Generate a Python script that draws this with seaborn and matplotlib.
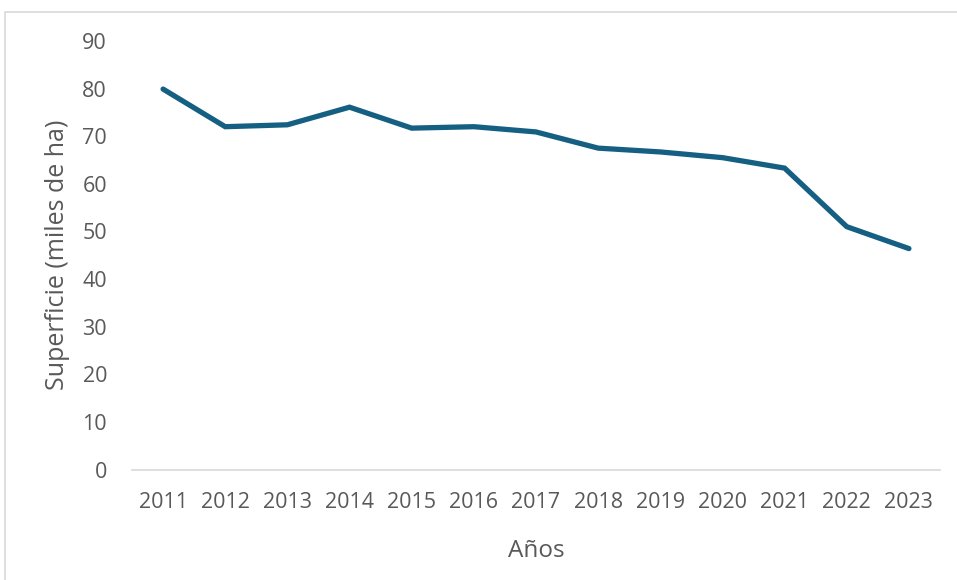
import matplotlib
matplotlib.use("Agg")
import matplotlib.pyplot as plt
import seaborn as sns
import pandas as pd
from matplotlib.patches import Rectangle

years = ["2011", "2012", "2013", "2014", "2015", "2016", "2017",
         "2018", "2019", "2020", "2021", "2022", "2023"]
superficie = [79.9, 72.0, 72.4, 76.1, 71.7, 72.0, 70.9,
              67.5, 66.7, 65.5, 63.3, 51.0, 46.4]
yticks = [0, 10, 20, 30, 40, 50, 60, 70, 80, 90]

df = pd.DataFrame({"Años": years, "Superficie": superficie})

sns.set_theme(style="white")
plt.rcParams["font.family"] = ["Open Sans", "DejaVu Sans"]

fig = plt.figure(figsize=(9.57, 5.8), dpi=100)
ax = fig.add_axes([132/957, 1 - 469.5/580, (940 - 132)/957, (469.5 - 41)/580])

sns.lineplot(data=df, x="Años", y="Superficie", ax=ax, color="#156082",
             linewidth=3.8, solid_capstyle="round", solid_joinstyle="miter", sort=False)

ax.set_xlim(-0.5, len(years) - 0.5)
ax.set_ylim(0, 90)
ax.set_yticks(yticks)
ax.set_yticklabels([str(v) for v in yticks])

for s in ["top", "right", "left"]:
    ax.spines[s].set_visible(False)
ax.spines["bottom"].set_color("#d9d9d9")
ax.spines["bottom"].set_linewidth(1.2)

ax.tick_params(axis="both", length=0, labelsize=15.5, labelcolor="#595959")
ax.tick_params(axis="x", pad=16)
ax.tick_params(axis="y", pad=18)

ax.set_xlabel("Años", fontsize=17.5, color="#595959", labelpad=19)
ax.set_ylabel("Superficie (miles de ha)", fontsize=18, color="#595959", labelpad=9)

fig.patches.append(Rectangle((5/957, -0.1), 1.2, 1 - 12/580 + 0.1,
                             transform=fig.transFigure, fill=False,
                             edgecolor="#d9d9d9", linewidth=1.2, zorder=-1))

fig.savefig("out.png", dpi=100)
